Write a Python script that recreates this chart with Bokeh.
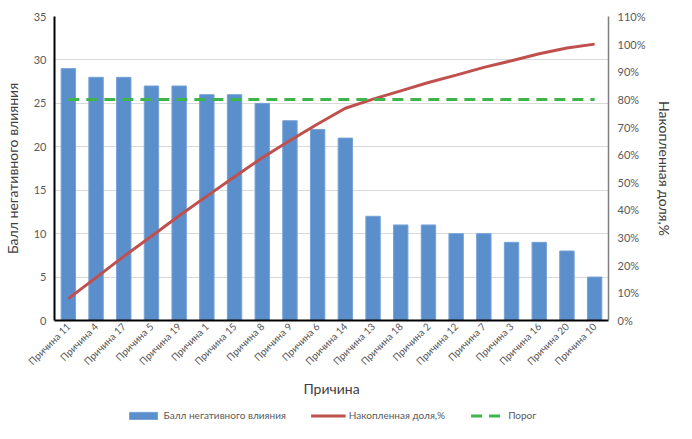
import math
from bokeh.plotting import figure
from bokeh.layouts import column
from bokeh.models import (Range1d, LinearAxis, SingleIntervalTicker, PrintfTickFormatter,
                          Legend, LegendItem, FactorRange)
from bokeh.embed import file_html
from bokeh.resources import INLINE

causes = ["Причина 11", "Причина 4", "Причина 17", "Причина 5", "Причина 19",
          "Причина 1", "Причина 15", "Причина 8", "Причина 9", "Причина 6",
          "Причина 14", "Причина 13", "Причина 18", "Причина 2", "Причина 12",
          "Причина 7", "Причина 3", "Причина 16", "Причина 20", "Причина 10"]
scores = [29, 28, 28, 27, 27, 26, 26, 25, 23, 22, 21, 12, 11, 11, 10, 10, 9, 9, 8, 5]
cum_share = [7.9, 15.5, 23.2, 30.5, 37.9, 45.0, 52.0, 58.9, 65.1, 71.1,
             76.8, 80.1, 83.1, 86.1, 88.8, 91.6, 94.0, 96.5, 98.6, 100.0]
threshold_pct = 80

FONT = "Lato"
TICK_COLOR = "#595959"
TITLE_COLOR = "#404040"
BAR_FILL = "#5A8FCB"
BAR_LINE = "#76A2D8"
LINE_RED = "#C0504D"
LINE_GREEN = "#3DB54A"

p = figure(width=676, height=400, x_range=FactorRange(factors=causes, range_padding=0.0),
           y_range=Range1d(0, 35), output_backend="svg", toolbar_location=None,
           min_border_left=49, min_border_right=59, min_border_top=16, min_border_bottom=69)
p.outline_line_color = None
p.extra_y_ranges = {"pct": Range1d(0, 110)}

p.vbar(x=causes, top=scores, width=0.52, fill_color=BAR_FILL, line_color=BAR_LINE, line_width=1)
p.line(x=causes, y=cum_share, y_range_name="pct", line_color=LINE_RED, line_width=3)
p.line(x=causes, y=[threshold_pct] * len(causes), y_range_name="pct",
       line_color=LINE_GREEN, line_width=3, line_dash="11 7")

ya = p.yaxis[0]
ya.ticker = SingleIntervalTicker(interval=5)
ya.axis_label = "Балл негативного влияния"
ya.axis_line_color = "black"
ya.axis_line_width = 2

ra = LinearAxis(y_range_name="pct", ticker=SingleIntervalTicker(interval=10),
                formatter=PrintfTickFormatter(format="%d%%"),
                axis_label="Накопленная доля,%")
ra.axis_line_color = "#7F7F7F"
ra.axis_line_width = 1.5
p.add_layout(ra, "right")

xa = p.xaxis[0]
xa.axis_label = "Причина"
xa.major_label_orientation = math.pi / 4
xa.axis_line_color = "black"
xa.axis_line_width = 2

for ax in [ya, ra, xa]:
    ax.major_tick_line_color = None
    ax.minor_tick_line_color = None
    ax.major_tick_out = 0
    ax.major_tick_in = 0
    ax.minor_tick_out = 0
    ax.minor_tick_in = 0
    ax.major_label_text_font = FONT
    ax.major_label_text_color = TICK_COLOR
    ax.axis_label_text_font = FONT
    ax.axis_label_text_color = TITLE_COLOR
    ax.axis_label_text_font_style = "normal"
    ax.axis_label_text_font_size = "14px"

ya.major_label_text_font_size = "11px"
ra.major_label_text_font_size = "11px"
xa.major_label_text_font_size = "10px"
ya.major_label_standoff = 8
ra.major_label_standoff = 9
ya.axis_label_standoff = 10
ra.axis_label_standoff = 8
xa.major_label_standoff = 4
xa.axis_label_standoff = 6

p.xgrid.grid_line_color = None
p.ygrid.grid_line_color = "#D9D9D9"
p.ygrid.ticker = SingleIntervalTicker(interval=5)

# legend strip below the chart (same glyph styles, data kept out of view)
lg = figure(width=676, height=30, x_range=FactorRange(factors=causes),
            y_range=Range1d(1000, 1001), output_backend="svg", toolbar_location=None,
            x_axis_location=None, y_axis_location=None,
            min_border_left=0, min_border_right=0, min_border_top=0, min_border_bottom=0)
lg.outline_line_color = None
lg.xgrid.grid_line_color = None
lg.ygrid.grid_line_color = None
r_bar = lg.vbar(x=causes, top=scores, width=0.52, fill_color=BAR_FILL, line_color=BAR_LINE, line_width=1)
r_line = lg.line(x=causes, y=cum_share, line_color=LINE_RED, line_width=3)
r_thr = lg.line(x=causes, y=[threshold_pct] * len(causes), line_color=LINE_GREEN,
                line_width=3, line_dash="11 7")

legend = Legend(items=[
    LegendItem(label="Балл негативного влияния", renderers=[r_bar]),
    LegendItem(label="Накопленная доля,%", renderers=[r_line]),
    LegendItem(label="Порог", renderers=[r_thr]),
], orientation="horizontal", location="center")
legend.label_text_font = FONT
legend.label_text_font_size = "10px"
legend.label_text_color = TICK_COLOR
legend.glyph_width = 35
legend.glyph_height = 9
legend.label_standoff = 3
legend.label_height = 12
legend.spacing = 25
legend.padding = 0
legend.margin = 0
legend.background_fill_alpha = 0
legend.border_line_color = None
lg.add_layout(legend, "center")

layout = column(p, lg, spacing=0)
open("out.html", "w").write(file_html(layout, INLINE))
